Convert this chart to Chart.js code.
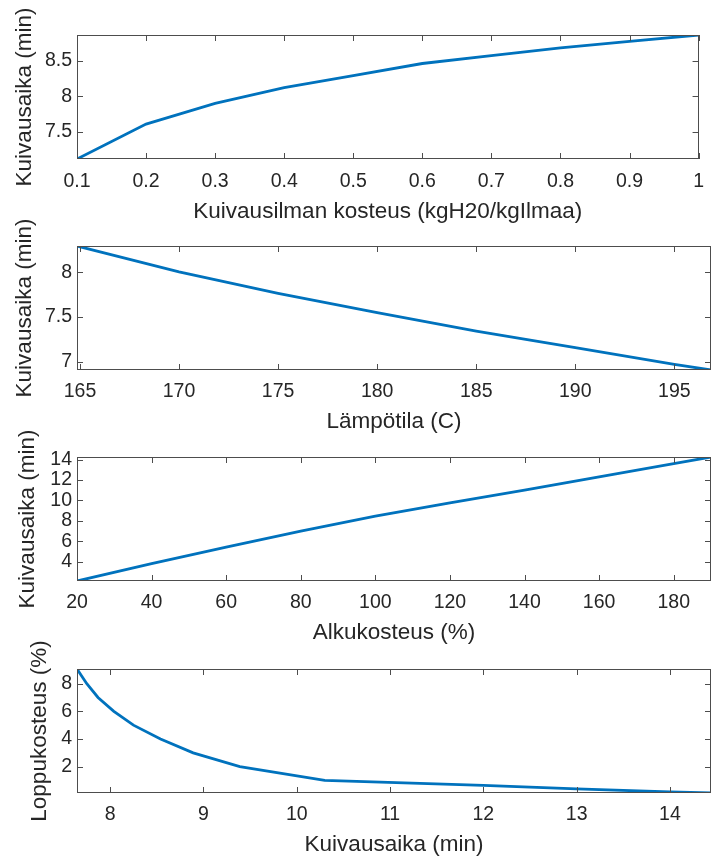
<!DOCTYPE html>
<html>
<head>
<meta charset="utf-8">
<script src="https://cdn.jsdelivr.net/npm/chart.js@4/dist/chart.umd.min.js"></script>
<style>
  html,body{margin:0;padding:0;background:#fff;}
  #wrap{position:relative;width:715px;height:858px;}
  .pane{position:absolute;left:0;width:715px;}
</style>
</head>
<body>
<div id="wrap">
  <!-- panes overlap a little so the rotated y titles have room -->
  <div class="pane" style="top:0;height:230px"><canvas id="c1"></canvas></div>
  <div class="pane" style="top:200px;height:240px"><canvas id="c2"></canvas></div>
  <div class="pane" style="top:410px;height:241px"><canvas id="c3"></canvas></div>
  <div class="pane" style="top:620px;height:238px"><canvas id="c4"></canvas></div>
</div>
<script>
/* drying time vs. air humidity, temperature, initial moisture; final moisture vs. drying time */

const humidity     = [0.1, 0.2, 0.3, 0.4, 0.5, 0.6, 0.7, 0.8, 0.9, 1.0];
const timeHumidity = [7.12, 7.61, 7.90, 8.12, 8.29, 8.46, 8.57, 8.68, 8.77, 8.86];
const humXTicks = [0.1, 0.2, 0.3, 0.4, 0.5, 0.6, 0.7, 0.8, 0.9, 1];
const humYTicks = [7.5, 8, 8.5];

const temperature = [164.85, 170, 175, 180, 185, 190, 195, 196.85];
const timeTemp    = [8.294, 8.005, 7.765, 7.548, 7.343, 7.158, 6.97, 6.907];
const tempXTicks = [165, 170, 175, 180, 185, 190, 195];
const tempYTicks = [7, 7.5, 8];

const initMoisture = [20, 40, 60, 80, 100, 120, 140, 160, 180, 190];
const timeInit     = [2.10, 3.80, 5.42, 7.00, 8.45, 9.75, 11.02, 12.31, 13.60, 14.26];
const initXTicks = [20, 40, 60, 80, 100, 120, 140, 160, 180];
const initYTicks = [4, 6, 8, 10, 12, 14];

const dryTime      = [7.645, 7.75, 7.87, 8.04, 8.25, 8.54, 8.89, 9.39, 10.30, 12.0, 13.0, 14.0, 14.44];
const endMoisture  = [9.06, 8, 7, 6, 5, 4, 3, 2, 1, 0.65, 0.39, 0.17, 0.094];
const dryXTicks = [8, 9, 10, 11, 12, 13, 14];
const dryYTicks = [2, 4, 6, 8];

const LINE = '#0072BD';
const AXIS = '#4d4d4d';
const TEXT = '#262626';
const FONT = '"Liberation Sans", Arial, Helvetica, sans-serif';

// box around the plot with inward tick marks on all four sides
const boxPlugin = {id:'box', afterDraw(chart){
  const {ctx, chartArea:{left,right,top,bottom}, scales:{x,y}} = chart;
  const L = 6;
  ctx.save();
  ctx.strokeStyle = AXIS; ctx.lineWidth = 1;
  ctx.strokeRect(Math.round(left)+0.5, Math.round(top)+0.5, Math.round(right-left)-1, Math.round(bottom-top)-1);
  ctx.beginPath();
  x.ticks.forEach(t=>{
    const px = Math.round(x.getPixelForValue(t.value))+0.5;
    ctx.moveTo(px, bottom); ctx.lineTo(px, bottom-L);
    ctx.moveTo(px, top);    ctx.lineTo(px, top+L);
  });
  y.ticks.forEach(t=>{
    const py = Math.round(y.getPixelForValue(t.value))+0.5;
    ctx.moveTo(left, py);  ctx.lineTo(left+L, py);
    ctx.moveTo(right, py); ctx.lineTo(right-L, py);
  });
  ctx.stroke();
  ctx.restore();
}};

function mkChart(id, xs, ys, xTicks, yTicks, xTitle, yTitle, lay){
  const pts = xs.map((v,i)=>({x:v, y:ys[i]}));
  return new Chart(document.getElementById(id), {
    type:'line',
    data:{datasets:[{data:pts, borderColor:LINE, borderWidth:2.8, pointRadius:0, tension:0, fill:false}]},
    options:{
      responsive:true, maintainAspectRatio:false, animation:false,
      layout:{padding:{top:lay.top, right:4, left:0, bottom:0}},
      plugins:{legend:{display:false}, tooltip:{enabled:false}},
      scales:{
        x:{type:'linear', min:Math.min(...xs), max:Math.max(...xs),
          grid:{display:false, drawTicks:false}, border:{display:false},
          afterBuildTicks:s=>{ s.ticks = xTicks.map(v=>({value:v})); },
          afterFit:s=>{ s.height = lay.xh; },
          ticks:{autoSkip:false, maxRotation:0, padding:lay.tp, color:TEXT, font:{family:FONT, size:19.5}, callback:v=>String(v)},
          title:{display:true, text:xTitle, color:TEXT, font:{family:FONT, size:22.5}, padding:{top:0, bottom:lay.xb}}
        },
        y:{type:'linear', min:Math.min(...ys), max:Math.max(...ys),
          grid:{display:false, drawTicks:false}, border:{display:false},
          afterBuildTicks:s=>{ s.ticks = yTicks.map(v=>({value:v})); },
          afterFit:s=>{ s.width = 77; },
          ticks:{autoSkip:false, padding:5, color:TEXT, font:{family:FONT, size:19.5}, callback:v=>String(v)},
          title:{display:true, text:yTitle, color:TEXT, font:{family:FONT, size:22.5}, padding:{top:lay.yt, bottom:0}}
        }
      }
    },
    plugins:[boxPlugin]
  });
}

mkChart('c1', humidity, timeHumidity, humXTicks, humYTicks,
  'Kuivausilman kosteus (kgH20/kgIlmaa)', 'Kuivausaika (min)', {top:35, xh:71, tp:11, xb:4.5, yt:11.5});
mkChart('c2', temperature, timeTemp, tempXTicks, tempYTicks,
  'Lämpötila (C)', 'Kuivausaika (min)', {top:46, xh:70, tp:10, xb:4.5, yt:11.5});
mkChart('c3', initMoisture, timeInit, initXTicks, initYTicks,
  'Alkukosteus (%)', 'Kuivausaika (min)', {top:47, xh:70, tp:10, xb:4.5, yt:14});
mkChart('c4', dryTime, endMoisture, dryXTicks, dryYTicks,
  'Kuivausaika (min)', 'Loppukosteus (%)', {top:49, xh:65, tp:10, xb:0, yt:26.5});
</script>
</body>
</html>
